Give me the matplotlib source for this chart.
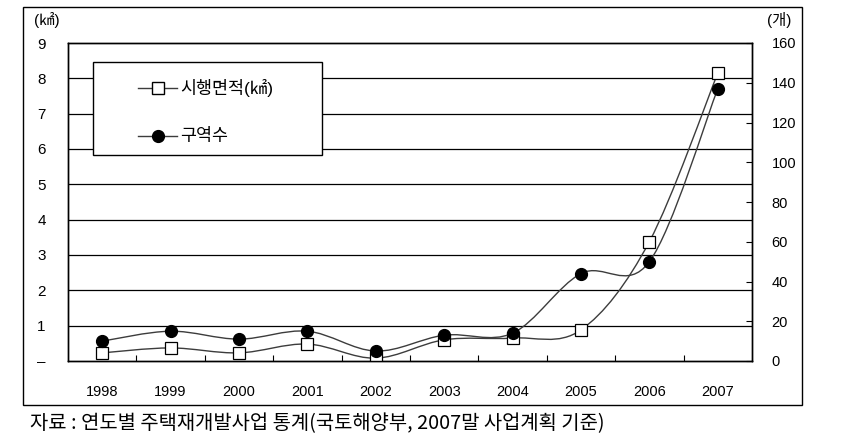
import matplotlib
matplotlib.use("Agg")
import matplotlib.pyplot as plt
from matplotlib.path import Path
from matplotlib.patches import PathPatch, Rectangle
from matplotlib.lines import Line2D

plt.rcParams['font.family'] = ['Liberation Sans', 'Noto Sans CJK KR', 'DejaVu Sans']

years = ['1998', '1999', '2000', '2001', '2002', '2003', '2004', '2005', '2006', '2007']
area_km2 = [0.23, 0.37, 0.23, 0.48, 0.08, 0.60, 0.65, 0.88, 3.38, 8.15]
zone_count = [10, 15, 11, 15, 5, 13, 14, 44, 50, 137]

left_ticks = [0, 1, 2, 3, 4, 5, 6, 7, 8, 9]
left_labels = ['–', '1', '2', '3', '4', '5', '6', '7', '8', '9']
right_ticks = [0, 20, 40, 60, 80, 100, 120, 140, 160]

line_color = '#3c3c3c'


def smooth_path(xs, ys):
    # Excel-style smoothed line: Catmull-Rom segments as cubic Bezier curves
    n = len(xs)
    verts = [(xs[0], ys[0])]
    codes = [Path.MOVETO]
    for i in range(n - 1):
        x0, y0 = (xs[i - 1], ys[i - 1]) if i > 0 else (xs[i], ys[i])
        x1, y1 = xs[i], ys[i]
        x2, y2 = xs[i + 1], ys[i + 1]
        x3, y3 = (xs[i + 2], ys[i + 2]) if i + 2 < n else (x2, y2)
        c1 = (x1 + (x2 - x0) / 6, y1 + (y2 - y0) / 6)
        c2 = (x2 - (x3 - x1) / 6, y2 - (y3 - y1) / 6)
        verts += [c1, c2, (x2, y2)]
        codes += [Path.CURVE4] * 3
    return Path(verts, codes)


fig = plt.figure(figsize=(8.44, 4.47), dpi=100)
ax = fig.add_axes([68 / 844, 1 - 361 / 447, 684 / 844, 318 / 447])
ax2 = ax.twinx()

x = list(range(len(years)))

# area series (left axis)
ax.add_patch(PathPatch(smooth_path(x, area_km2), fill=False, edgecolor=line_color, lw=1.0, zorder=3))
ax.plot(x, area_km2, ls='none', marker='s', ms=8, mfc='white', mec='black', mew=0.9, zorder=4)

# zone count series (right axis)
ax2.add_patch(PathPatch(smooth_path(x, zone_count), fill=False, edgecolor=line_color, lw=1.0, zorder=3))
ax2.plot(x, zone_count, ls='none', marker='o', ms=8.5, mfc='black', mec='black', zorder=4)

ax.set_xlim(-0.5, len(years) - 0.5)
ax.set_ylim(0, 9)
ax2.set_ylim(0, 160)

ax.set_xticks(x)
ax.set_xticklabels(years, fontsize=10.5)
ax.set_xticks([i + 0.5 for i in range(len(years) - 1)], minor=True)
ax.tick_params(axis='x', which='major', length=0, pad=17)
ax.tick_params(axis='x', which='minor', direction='in', length=4, width=0.8)

ax.set_yticks(left_ticks)
ax.set_yticklabels(left_labels, fontsize=11)
ax.tick_params(axis='y', length=0, pad=16)
for v in left_ticks[1:-1]:
    ax.axhline(v, color='black', lw=0.9, zorder=1)

ax2.set_yticks(right_ticks)
ax2.set_yticklabels([str(t) for t in right_ticks], fontsize=10.5)
ax2.tick_params(axis='y', direction='in', length=4, width=0.8, pad=14)

for a in (ax, ax2):
    for s in a.spines.values():
        s.set_color('black')
        s.set_linewidth(1.0)

# legend box drawn on top
lx0, lx1 = (93 - 68) / 684, (322 - 68) / 684
ly0, ly1 = (361 - 155) / 318, (361 - 62) / 318
ax2.add_patch(Rectangle((lx0, ly0), lx1 - lx0, ly1 - ly0, transform=ax2.transAxes,
                        facecolor='white', edgecolor='black', lw=1.0, zorder=10))
seg_x = [(138 - 68) / 684, (177 - 68) / 684]
mid_x = (seg_x[0] + seg_x[1]) / 2
for yy, mk, fc, label in [((361 - 88) / 318, 's', 'white', '시행면적(㎢)'),
                          ((361 - 136) / 318, 'o', 'black', '구역수')]:
    ax2.add_line(Line2D(seg_x, [yy, yy], color=line_color, lw=1.0, transform=ax2.transAxes, zorder=11))
    ax2.add_line(Line2D([mid_x], [yy], marker=mk, ms=8.5 if mk == 'o' else 8, mfc=fc, mec='black',
                        ls='none', transform=ax2.transAxes, zorder=12))
    ax2.text((180 - 68) / 684, yy, label, transform=ax2.transAxes, fontsize=12.5,
             va='center', ha='left', zorder=12)

# unit labels
fig.text(47 / 844, 1 - 20 / 447, '(㎢)', fontsize=11, ha='center', va='center')
fig.text(779 / 844, 1 - 20 / 447, '(개)', fontsize=11, ha='center', va='center')

# outer frame
fig.patches.append(Rectangle((23 / 844, 1 - 405 / 447), 779 / 844, 398 / 447,
                             transform=fig.transFigure, fill=False, edgecolor='black', lw=1.0))

fig.text(30 / 844, 1 - 424 / 447, '자료 : 연도별 주택재개발사업 통계(국토해양부, 2007말 사업계획 기준)',
         fontsize=14.3, ha='left', va='center', family=['Noto Sans CJK KR', 'DejaVu Sans'])

fig.savefig('out.png', dpi=100)
